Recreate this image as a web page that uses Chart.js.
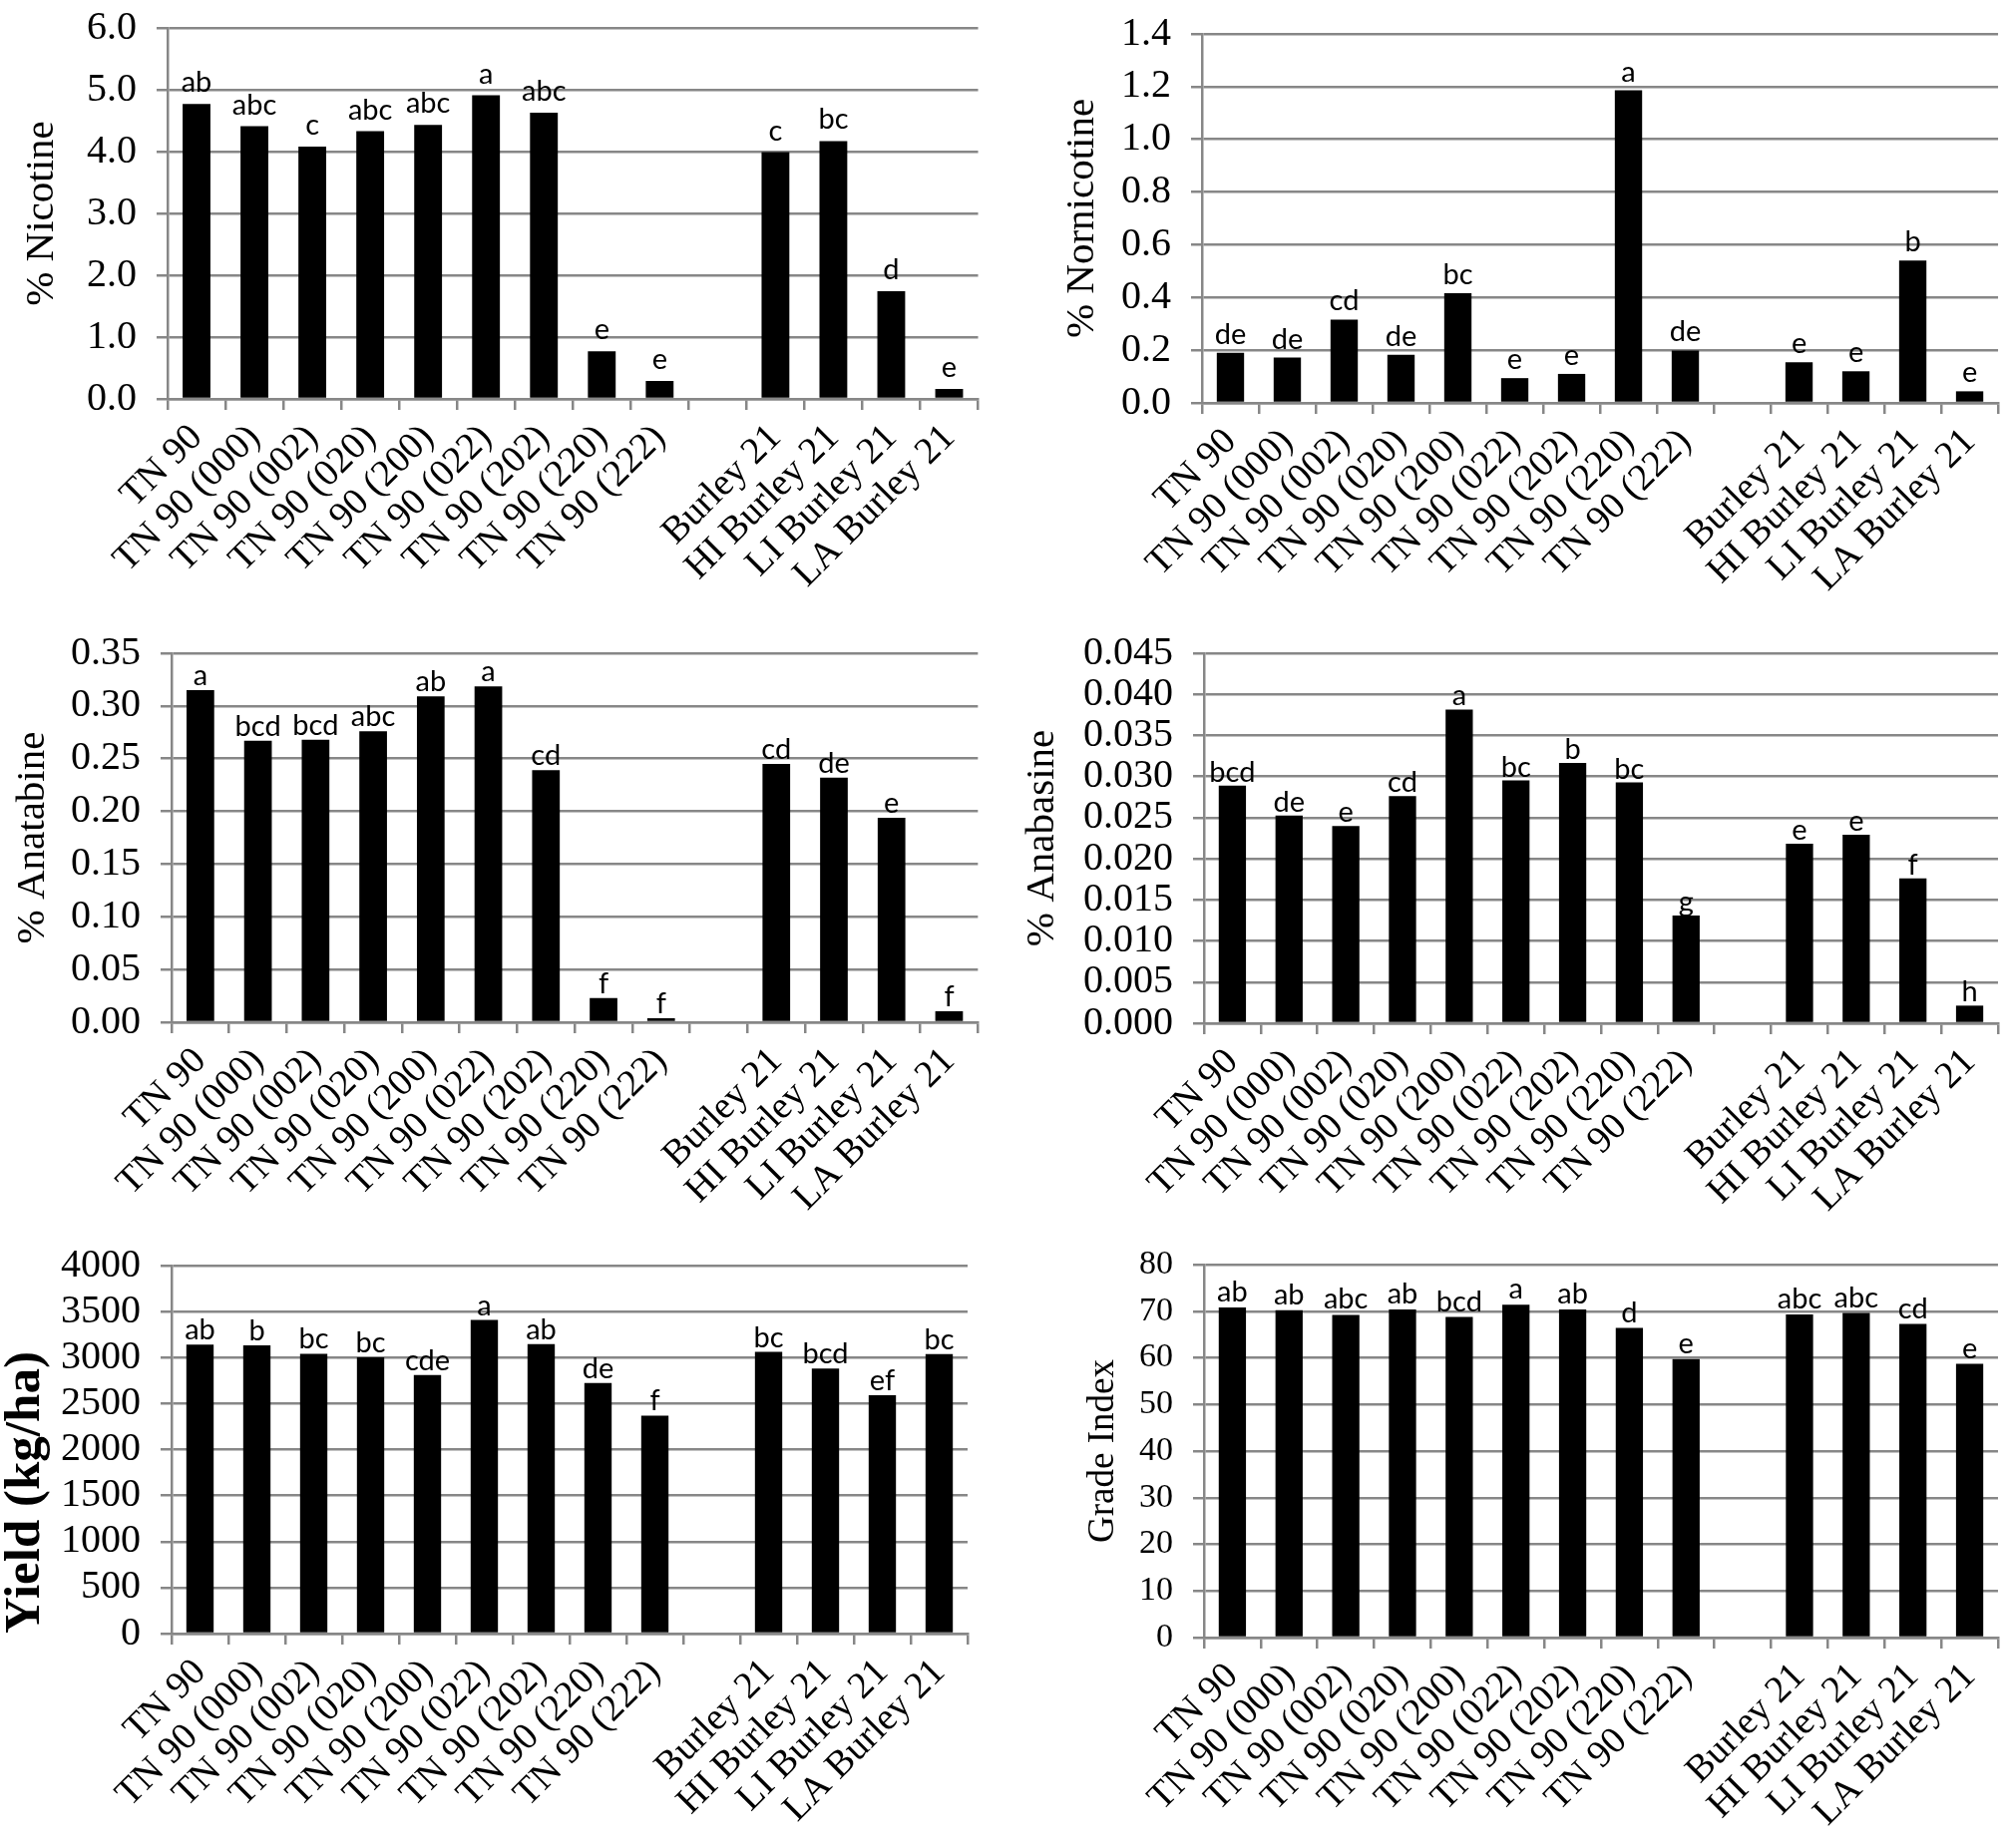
<!DOCTYPE html>
<html>
<head>
<meta charset="utf-8">
<script src="https://cdn.jsdelivr.net/npm/chart.js@4.4.1/dist/chart.umd.min.js"></script>
<style>
  html, body { margin: 0; padding: 0; background: #fff; }
  body { width: 2013px; height: 1853px; position: relative; overflow: hidden; }
  canvas { position: absolute; }
</style>
</head>
<body>
<canvas id="nic"></canvas>
<canvas id="nor"></canvas>
<canvas id="anat"></canvas>
<canvas id="anab"></canvas>
<canvas id="yield"></canvas>
<canvas id="grade"></canvas>
<script>
// categories (the empty one is the gap between the two groups)
const categories = [
  "TN 90", "TN 90 (000)", "TN 90 (002)", "TN 90 (020)", "TN 90 (200)",
  "TN 90 (022)", "TN 90 (202)", "TN 90 (220)", "TN 90 (222)", "",
  "Burley 21", "HI Burley 21", "LI Burley 21", "LA Burley 21",
];

const nicotine = [4.77, 4.41, 4.08, 4.33, 4.43, 4.91, 4.63, 0.77, 0.29, null, 3.99, 4.17, 1.74, 0.16];
const nicotineLetters = ["ab", "abc", "c", "abc", "abc", "a", "abc", "e", "e", "", "c", "bc", "d", "e"];

const nornicotine = [0.19, 0.172, 0.316, 0.183, 0.416, 0.094, 0.11, 1.186, 0.199, null, 0.154, 0.12, 0.54, 0.044];
const nornicotineLetters = ["de", "de", "cd", "de", "bc", "e", "e", "a", "de", "", "e", "e", "b", "e"];

const anatabine = [0.315, 0.267, 0.268, 0.276, 0.309, 0.3185, 0.239, 0.023, 0.0037, null, 0.245, 0.232, 0.194, 0.0104];
const anatabineLetters = ["a", "bcd", "bcd", "abc", "ab", "a", "cd", "f", "f", "", "cd", "de", "e", "f"];

const anabasine = [0.0289, 0.02525, 0.024, 0.02763, 0.03816, 0.02952, 0.03166, 0.02929, 0.0131, null, 0.02184, 0.02293, 0.01761, 0.00214];
const anabasineLetters = ["bcd", "de", "e", "cd", "a", "bc", "b", "bc", "g", "", "e", "e", "f", "h"];

const yieldKgHa = [3141, 3132, 3041, 3003, 2811, 3408, 3145, 2724, 2369, null, 3062, 2882, 2590, 3037];
const yieldLetters = ["ab", "b", "bc", "bc", "cde", "a", "ab", "de", "f", "", "bc", "bcd", "ef", "bc"];

const gradeIndex = [70.8, 70.2, 69.2, 70.4, 68.75, 71.4, 70.4, 66.4, 59.75, null, 69.3, 69.6, 67.25, 58.7];
const gradeLetters = ["ab", "ab", "abc", "ab", "bcd", "a", "ab", "d", "e", "", "abc", "abc", "cd", "e"];

// y axis ranges: [min, max, step, decimals]
const nicotineAxis = [0, 6, 1, 1];
const nornicotineAxis = [0, 1.4, 0.2, 1];
const anatabineAxis = [0, 0.35, 0.05, 2];
const anabasineAxis = [0, 0.045, 0.005, 3];
const yieldAxis = [0, 4000, 500, 0];
const gradeAxis = [0, 80, 10, 0];

const GRID = "#878787";
const SERIF = "'Liberation Serif', 'Times New Roman', serif";

Chart.defaults.font.family = SERIF;
Chart.defaults.color = "#000";

// draws the significance letters above each bar
const lettersPlugin = {
  id: "letters",
  afterDatasetsDraw(chart, args, opts) {
    const ctx = chart.ctx;
    const meta = chart.getDatasetMeta(0);
    ctx.save();
    ctx.font = "29px Lato";
    ctx.fillStyle = "#000";
    ctx.textAlign = "center";
    ctx.textBaseline = "alphabetic";
    meta.data.forEach((bar, i) => {
      const t = opts.letters[i];
      if (!t) return;
      ctx.fillText(t, bar.x, bar.y - opts.gap);
    });
    ctx.restore();
  },
};

function panel(id, values, letters, axis, title, box) {
  const cv = document.getElementById(id);
  cv.width = box.w;
  cv.height = box.h;
  cv.style.left = box.x + "px";
  cv.style.top = box.y + "px";
  const [min, max, step, dec] = axis;

  new Chart(cv, {
    type: "bar",
    data: {
      labels: categories,
      datasets: [{
        data: values,
        backgroundColor: "#000",
        barPercentage: 0.48,
        categoryPercentage: 1,
      }],
    },
    plugins: [lettersPlugin],
    options: {
      responsive: false,
      animation: false,
      devicePixelRatio: 1,
      layout: {
        padding: { left: 0, top: box.area[1] - box.y, right: box.x + box.w - box.area[2], bottom: 0 },
      },
      plugins: {
        legend: { display: false },
        tooltip: { enabled: false },
        letters: { letters: letters, gap: box.gap },
      },
      scales: {
        x: {
          afterFit: (s) => { s.height = box.y + box.h - box.area[3]; },
          grid: { drawOnChartArea: false, drawTicks: true, tickLength: 11, color: GRID, lineWidth: 2.5, offset: true },
          border: { color: GRID, width: 2.5 },
          ticks: {
            autoSkip: false,
            minRotation: 45,
            maxRotation: 45,
            padding: 6,
            font: { size: 38, family: SERIF },
          },
        },
        y: {
          min: min,
          max: max,
          afterFit: (s) => { s.width = box.area[0] - box.x; },
          grid: { color: GRID, lineWidth: 2.5, drawTicks: true, tickLength: 11 },
          border: { color: GRID, width: 2.5 },
          ticks: {
            autoSkip: false,
            stepSize: step,
            padding: 20,
            font: { size: box.tickSize, family: SERIF, lineHeight: 1 },
            callback: (v) => Number(v).toFixed(dec),
          },
          title: {
            display: true,
            text: title,
            align: box.titleAlign || "center",
            padding: { top: box.titlePad, bottom: 0 },
            font: { size: box.titleSize, family: SERIF, weight: box.titleBold ? "bold" : "normal", lineHeight: 1 },
          },
        },
      },
    },
  });
}

panel("nic", nicotine, nicotineLetters, nicotineAxis, "% Nicotine",
  { x: 0, y: -12, w: 990, h: 624, area: [168, 18, 983, 400], gap: 12, tickSize: 40, titleSize: 41, titlePad: 22 });
panel("nor", nornicotine, nornicotineLetters, nornicotineAxis, "% Nornicotine",
  { x: 1006, y: -6, w: 1007, h: 618, area: [1205, 24, 2007, 404], gap: 9, tickSize: 40, titleSize: 41, titlePad: 59 });
panel("anat", anatabine, anatabineLetters, anatabineAxis, "% Anatabine",
  { x: 0, y: 615, w: 990, h: 615, area: [172, 645, 982, 1025], gap: 5, tickSize: 40, titleSize: 41, titlePad: 13 });
panel("anab", anabasine, anabasineLetters, anabasineAxis, "% Anabasine",
  { x: 1006, y: 615, w: 1007, h: 615, area: [1207, 645, 2007, 1026], gap: 4, tickSize: 40, titleSize: 41, titlePad: 19 });
panel("yield", yieldKgHa, yieldLetters, yieldAxis, "Yield (kg/ha)",
  { x: 0, y: 1229, w: 980, h: 624, area: [172, 1259, 973, 1638], gap: 5, tickSize: 40, titleSize: 51, titlePad: 0, titleBold: true, titleAlign: "start" });
panel("grade", gradeIndex, gradeLetters, gradeAxis, "Grade Index",
  { x: 1006, y: 1231, w: 1007, h: 622, area: [1207, 1261, 2007, 1642], gap: 6, tickSize: 34, titleSize: 37, titlePad: 82 });
</script>
</body>
</html>
